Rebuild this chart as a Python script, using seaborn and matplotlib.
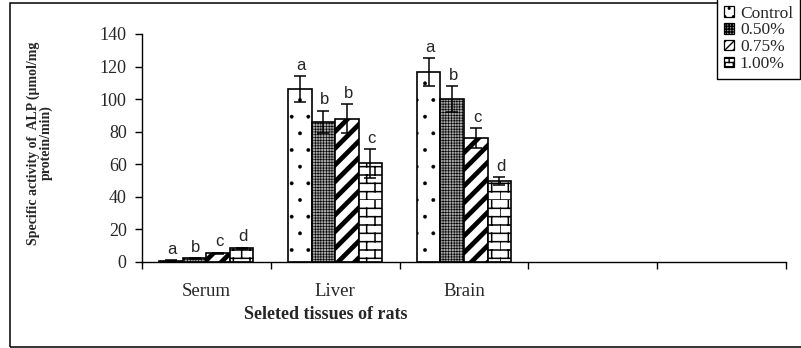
import warnings
warnings.filterwarnings("ignore")
import numpy as np
import pandas as pd
import matplotlib
matplotlib.use("Agg")
import matplotlib.pyplot as plt
import seaborn as sns
from matplotlib import hatch as mhatch
from matplotlib.path import Path
from matplotlib.patches import Patch, Rectangle

# ---------------- data ----------------
tissues = ["Serum", "Liver", "Brain"]
groups = ["Control", "0.50%", "0.75%", "1.00%"]
control = [0.8, 106.0, 116.5]
dose_050 = [2.2, 86.0, 100.0]
dose_075 = [5.4, 88.0, 76.0]
dose_100 = [8.4, 60.5, 49.5]
sd_control = [0.2, 8.0, 8.5]
sd_050 = [0.3, 7.0, 8.0]
sd_075 = [0.4, 9.0, 6.0]
sd_100 = [0.5, 9.0, 2.5]
letters_control = ["a", "a", "a"]
letters_050 = ["b", "b", "b"]
letters_075 = ["c", "b", "c"]
letters_100 = ["d", "c", "d"]
y_ticks = [0, 20, 40, 60, 80, 100, 120, 140]
n_slots = 5  # three tissues + two empty category slots on the axis


# ---------------- custom brick hatch ----------------
class BrickHatch(mhatch.HatchPatternBase):
    def __init__(self, hatch, density):
        n = hatch.count("B")
        self.rows = 12 * n
        self.cols = 6 * n
        self.num_vertices = (self.rows + self.rows * self.cols) * 2 if n else 0

    def set_vertices_and_codes(self, vertices, codes):
        rows, cols = self.rows, self.cols
        h = 1.0 / rows
        i = 0
        for r in range(rows):
            y = r * h
            vertices[i] = (0.0, y)
            vertices[i + 1] = (1.0, y)
            i += 2
        for r in range(rows):
            y0 = r * h
            off = 0.0 if r % 2 == 0 else 0.5 / cols
            for c in range(cols):
                x = c / cols + off
                vertices[i] = (x, y0)
                vertices[i + 1] = (x, y0 + h)
                i += 2
        codes[0::2] = Path.MOVETO
        codes[1::2] = Path.LINETO


mhatch._hatch_types.append(BrickHatch)

styles = {
    "Control": dict(facecolor="white", hatch=".", hlw=0.3),
    "0.50%": dict(facecolor="#a8a8a8", hatch="++++++", hlw=0.45),
    "0.75%": dict(facecolor="white", hatch="//", hlw=3.4),
    "1.00%": dict(facecolor="white", hatch="B", hlw=1.1),
}
legend_styles = {
    "Control": dict(facecolor="white", hatch="..", hlw=0.3),
    "0.50%": dict(facecolor="#a8a8a8", hatch="++++++", hlw=0.45),
    "0.75%": dict(facecolor="white", hatch="////", hlw=1.6),
    "1.00%": dict(facecolor="white", hatch="BB", hlw=0.9),
}

# ---------------- build frame ----------------
values = {"Control": control, "0.50%": dose_050, "0.75%": dose_075, "1.00%": dose_100}
sds = {"Control": sd_control, "0.50%": sd_050, "0.75%": sd_075, "1.00%": sd_100}
letters = {"Control": letters_control, "0.50%": letters_050,
           "0.75%": letters_075, "1.00%": letters_100}
rows = []
for g in groups:
    for t, v in zip(tissues, values[g]):
        rows.append({"tissue": t, "group": g, "value": v})
df = pd.DataFrame(rows)

sns.set_style("ticks")
plt.rcParams["font.family"] = ["Liberation Serif", "DejaVu Serif"]
plt.rcParams["hatch.color"] = "black"

fig = plt.figure(figsize=(8.01, 3.48), dpi=100)
W, H = 801, 348
ax = fig.add_axes([142 / W, 1 - 262 / H, 644 / W, 228 / H])

sns.barplot(data=df, x="tissue", y="value", hue="group", order=tissues,
            hue_order=groups, palette=["white"] * 4, width=0.73, gap=0,
            edgecolor="black", linewidth=1.2, errorbar=None, legend=False, ax=ax)

for g, cont in zip(groups, ax.containers):
    st = styles[g]
    for i, p in enumerate(cont.patches):
        p.set_facecolor(st["facecolor"])
        p.set_hatch(st["hatch"])
        p.set_edgecolor("black")
        if hasattr(p, "set_hatch_linewidth"):
            p.set_hatch_linewidth(st["hlw"])
        xc = p.get_x() + p.get_width() / 2
        v = values[g][i]
        s = sds[g][i]
        ax.errorbar(xc, v, yerr=s, fmt="none", ecolor="black", elinewidth=1.1,
                    capsize=4.5, capthick=1.1, zorder=5)
        ax.text(xc + 0.01, v + s + 2.0, letters[g][i], ha="center", va="bottom",
                fontsize=12, family=["Liberation Sans", "DejaVu Sans"])

ax.set_xlim(-0.5, n_slots - 0.5)
ax.set_ylim(0, 140)
ax.set_yticks(y_ticks)
ax.set_yticklabels([str(v) for v in y_ticks], fontsize=13)
ax.set_xticks(np.arange(-0.5, n_slots, 1.0))
ax.set_xticklabels([])
ax.set_xticks(range(len(tissues)), minor=True)
ax.set_xticklabels(tissues, minor=True, fontsize=13.5)
ax.tick_params(axis="x", which="major", length=5, width=1, direction="out", color="black")
ax.tick_params(axis="x", which="minor", length=0, pad=15)
ax.tick_params(axis="y", length=5, width=1, direction="out", color="black", pad=6)
for side in ["top", "right"]:
    ax.spines[side].set_visible(False)
for side in ["left", "bottom"]:
    ax.spines[side].set_color("black")
    ax.spines[side].set_linewidth(1.0)

ax.set_xlabel("Seleted tissues of rats", fontsize=13, fontweight="bold")
ax.xaxis.set_label_coords((326 - 142) / 644, (262 - 306) / 228)
ax.set_ylabel("Specific activity of  ALP (µmol/mg\nprotein/min)", fontsize=10,
              fontweight="bold", linespacing=0.95)
ax.yaxis.set_label_coords((53 - 142) / 644, (262 - 143) / 228)

handles = []
for g in groups:
    st = legend_styles[g]
    h = Patch(facecolor=st["facecolor"], edgecolor="black", hatch=st["hatch"], linewidth=0.9)
    if hasattr(h, "set_hatch_linewidth"):
        h.set_hatch_linewidth(st["hlw"])
    handles.append(h)
fig.legend(handles, groups, loc="upper left", bbox_to_anchor=(717 / W, 1.005),
           frameon=True, fancybox=False, edgecolor="black", framealpha=1,
           fontsize=12.5, handlelength=0.55, handleheight=0.55, handletextpad=0.35,
           labelspacing=0.05, borderpad=0.42, borderaxespad=0)
fig.legends[0].get_frame().set_linewidth(1.0)

fig.add_artist(Rectangle((9.5 / W, 1.5 / H), 1.2, (345 - 1.5) / H,
                         transform=fig.transFigure, fill=False, lw=1.1,
                         edgecolor="black", zorder=-1))

fig.savefig("out.png", dpi=100)
